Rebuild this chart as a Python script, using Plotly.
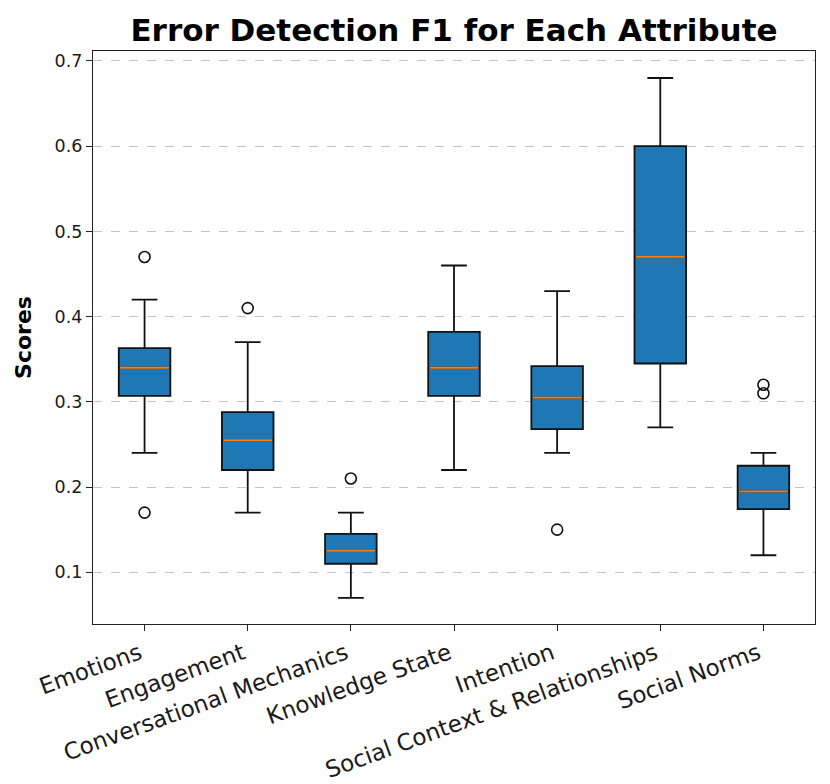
import plotly.graph_objects as go

categories = ["Emotions", "Engagement", "Conversational Mechanics", "Knowledge State",
              "Intention", "Social Context & Relationships", "Social Norms"]
q1 = [0.307, 0.220, 0.110, 0.307, 0.268, 0.345, 0.174]
median = [0.340, 0.255, 0.125, 0.340, 0.305, 0.470, 0.195]
q3 = [0.363, 0.288, 0.145, 0.382, 0.342, 0.600, 0.225]
lower_whisker = [0.24, 0.17, 0.07, 0.22, 0.24, 0.27, 0.12]
upper_whisker = [0.42, 0.37, 0.17, 0.46, 0.43, 0.68, 0.24]
outliers = [[0.47, 0.17], [0.41], [0.21], [], [0.15], [], [0.32, 0.31]]

FONT = "DejaVu Sans"
BOX_W = 0.5
positions = list(range(len(categories)))

fig = go.Figure()
fig.add_trace(go.Box(
    x=positions, q1=q1, median=median, q3=q3,
    lowerfence=lower_whisker, upperfence=upper_whisker,
    width=BOX_W, whiskerwidth=0.5,
    fillcolor="#1f77b4", line=dict(color="#111111", width=1.8),
    boxpoints=False, showlegend=False, hoverinfo="skip",
))

# orange median lines
mx, my = [], []
for p, m in zip(positions, median):
    mx += [p - BOX_W / 2 + 0.012, p + BOX_W / 2 - 0.012, None]
    my += [m, m, None]
fig.add_trace(go.Scatter(x=mx, y=my, mode="lines",
                         line=dict(color="#ff7f0e", width=1.8),
                         showlegend=False, hoverinfo="skip"))

# outliers
ox, oy = [], []
for p, vals in zip(positions, outliers):
    for v in vals:
        ox.append(p)
        oy.append(v)
fig.add_trace(go.Scatter(x=ox, y=oy, mode="markers",
                         marker=dict(symbol="circle-open", size=11,
                                     color="#111111", line=dict(width=1.6)),
                         showlegend=False, hoverinfo="skip"))

fig.update_layout(
    width=830, height=784,
    margin=dict(l=93, r=15, t=51, b=160, autoexpand=False),
    paper_bgcolor="white", plot_bgcolor="white",
    font=dict(family=FONT, color="#1a1a1a"),
    title=dict(text="<b>Error Detection F1 for Each Attribute</b>",
               font=dict(family=FONT, size=31, color="#000000"),
               x=0.5, xref="paper", xanchor="center",
               y=1 - 30 / 784, yref="container", yanchor="middle"),
)
fig.update_xaxes(
    automargin=False,
    range=[-0.5, len(categories) - 0.5],
    tickmode="array", tickvals=positions, ticktext=categories,
    tickangle=-20, tickfont=dict(family=FONT, size=23, color="#1a1a1a"),
    ticklabelshift=-5,
    ticks="outside", ticklen=6, tickwidth=1.3, tickcolor="#222222",
    showline=True, linecolor="#222222", linewidth=1.3, mirror=True,
    showgrid=False, zeroline=False,
)
fig.update_yaxes(
    automargin=False,
    range=[0.0393, 0.7117],
    tickmode="array", tickvals=[0.1, 0.2, 0.3, 0.4, 0.5, 0.6, 0.7],
    ticktext=["0.1", "0.2", "0.3", "0.4", "0.5", "0.6", "0.7"],
    tickfont=dict(family=FONT, size=17.5, color="#1a1a1a"),
    ticks="outside", ticklen=6, tickwidth=1.3, tickcolor="#222222",
    showline=True, linecolor="#222222", linewidth=1.3, mirror=True,
    showgrid=True, gridcolor="rgba(176,176,176,0.75)", griddash="dash", gridwidth=1,
    zeroline=False,
    title=dict(text="<b>Scores</b>", font=dict(family=FONT, size=22, color="#000000"),
               standoff=16),
)

fig.write_html("out.html",
               config={"displayModeBar": False},
               post_script="document.body.style.margin='0';document.body.style.overflow='hidden';")
